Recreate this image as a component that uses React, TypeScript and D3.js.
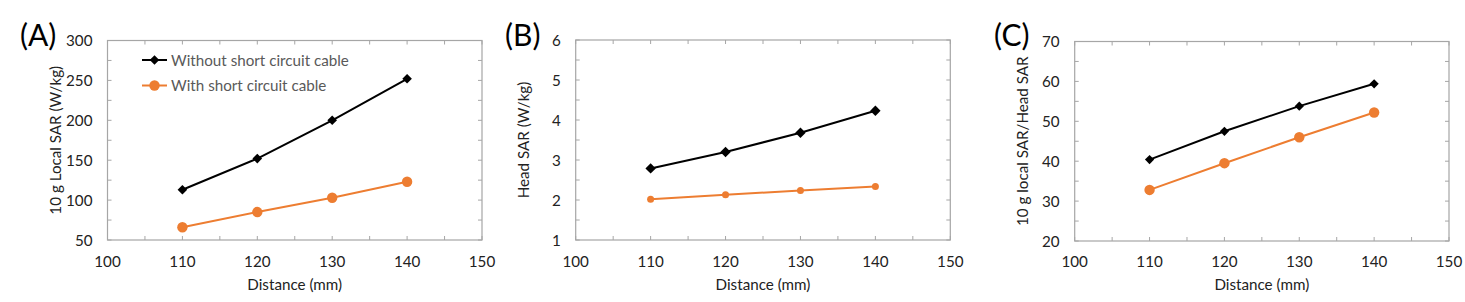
import React from "react";
import * as d3 from "d3";

const distances = [110, 120, 130, 140];
const xTicks = [100, 110, 120, 130, 140, 150];

const localSARWithout = [113, 152, 200, 252];
const localSARWith = [66, 85, 103, 123];
const headSARWithout = [2.79, 3.2, 3.68, 4.23];
const headSARWith = [2.02, 2.13, 2.24, 2.34];
const ratioWithout = [40.4, 47.5, 53.8, 59.4];
const ratioWith = [32.8, 39.5, 46.0, 52.2];

const yTicksA = [50, 100, 150, 200, 250, 300];
const yTicksB = [1, 2, 3, 4, 5, 6];
const yTicksC = [20, 30, 40, 50, 60, 70];

const seriesNames = ["Without short circuit cable", "With short circuit cable"];

const ORANGE = "#ED7D31";
const FONT = "Lato, 'Open Sans', sans-serif";
const FRAME = "#a6a6a6";
const FS = 15.2;

type PanelProps = {
  label: string;
  yLabel: string;
  box: { x0: number; x1: number; y0: number; y1: number };
  yTicks: number[];
  black: number[];
  orange: number[];
  diamond: number;
  circle: number;
  legend?: boolean;
  labelX: number;
};

function Diamond({ cx, cy, r }: { cx: number; cy: number; r: number }) {
  return (
    <path
      d={`M${cx},${cy - r}L${cx + r},${cy}L${cx},${cy + r}L${cx - r},${cy}Z`}
      fill="#000"
    />
  );
}

function Panel(p: PanelProps) {
  const { x0, x1, y0, y1 } = p.box;
  const x = d3.scaleLinear().domain([100, 150]).range([x0, x1]);
  const yd = [p.yTicks[0], p.yTicks[p.yTicks.length - 1]];
  const y = d3.scaleLinear().domain(yd).range([y1, y0]);
  const line = d3
    .line<number>()
    .x((_, i) => x(distances[i]))
    .y((d) => y(d));
  const xMinor = d3.range(100, 150.01, 5);
  const step = (p.yTicks[1] - p.yTicks[0]) / 2;
  const yMinor = d3.range(yd[0], yd[1] + step / 100, step);
  const tl = 4;
  return (
    <g>
      <text x={p.labelX} y={46} fontSize={30} fontFamily={FONT} fill="#000">
        {p.label}
      </text>
      <rect x={x0} y={y0} width={x1 - x0} height={y1 - y0} fill="none" stroke={FRAME} strokeWidth={1.2} />
      {xMinor.map((v) => (
        <g key={"xm" + v}>
          <line x1={x(v)} x2={x(v)} y1={y1} y2={y1 - tl} stroke={FRAME} />
          <line x1={x(v)} x2={x(v)} y1={y0} y2={y0 + tl} stroke={FRAME} />
        </g>
      ))}
      {yMinor.map((v) => (
        <g key={"ym" + v}>
          <line x1={x0} x2={x0 + tl} y1={y(v)} y2={y(v)} stroke={FRAME} />
          <line x1={x1} x2={x1 - tl} y1={y(v)} y2={y(v)} stroke={FRAME} />
        </g>
      ))}
      {xTicks.map((v) => (
        <text key={"xt" + v} x={x(v)} y={267} textAnchor="middle" fontSize={FS} fontFamily={FONT} fill="#222">
          {v}
        </text>
      ))}
      {p.yTicks.map((v) => (
        <text key={"yt" + v} x={x0 - 15} y={y(v) + 5.5} textAnchor="end" fontSize={FS} fontFamily={FONT} fill="#222">
          {v}
        </text>
      ))}
      <text x={(x0 + x1) / 2} y={290} textAnchor="middle" fontSize={FS} fontFamily={FONT} fill="#222">
        Distance (mm)
      </text>
      <text
        transform={`translate(${x0 - 47},${(y0 + y1) / 2}) rotate(-90)`}
        textAnchor="middle"
        fontSize={FS}
        fontFamily={FONT}
        fill="#222"
      >
        {p.yLabel}
      </text>
      <path d={line(p.black) || ""} fill="none" stroke="#000" strokeWidth={2} />
      <path d={line(p.orange) || ""} fill="none" stroke={ORANGE} strokeWidth={2} />
      {p.black.map((v, i) => (
        <Diamond key={"b" + i} cx={x(distances[i])} cy={y(v)} r={p.diamond} />
      ))}
      {p.orange.map((v, i) => (
        <circle key={"o" + i} cx={x(distances[i])} cy={y(v)} r={p.circle} fill={ORANGE} />
      ))}
      {p.legend && (
        <g>
          <line x1={142} x2={167} y1={60} y2={60} stroke="#000" strokeWidth={2} />
          <Diamond cx={154.5} cy={60} r={4.8} />
          <text x={171} y={65.5} fontSize={FS} fontFamily={FONT} fill="#595959">
            {seriesNames[0]}
          </text>
          <line x1={142} x2={167} y1={85.5} y2={85.5} stroke={ORANGE} strokeWidth={2} />
          <circle cx={154.5} cy={85.5} r={5.2} fill={ORANGE} />
          <text x={171} y={91} fontSize={FS} fontFamily={FONT} fill="#595959">
            {seriesNames[1]}
          </text>
        </g>
      )}
    </g>
  );
}

export default function App() {
  return (
    <svg
      width={1465}
      height={302}
      style={{ position: "absolute", left: 0, top: 0, background: "#fff" }}
    >
      <rect width={1465} height={302} fill="#fff" />
      <Panel
        label="(A)"
        labelX={20}
        yLabel="10 g Local SAR (W/kg)"
        box={{ x0: 107.5, x1: 482, y0: 40.5, y1: 240 }}
        yTicks={yTicksA}
        black={localSARWithout}
        orange={localSARWith}
        diamond={4.8}
        circle={5.2}
        legend
      />
      <Panel
        label="(B)"
        labelX={505}
        yLabel="Head SAR (W/kg)"
        box={{ x0: 575.7, x1: 950.3, y0: 40, y1: 240 }}
        yTicks={yTicksB}
        black={headSARWithout}
        orange={headSARWith}
        diamond={5.2}
        circle={3.5}
      />
      <Panel
        label="(C)"
        labelX={994}
        yLabel="10 g local SAR/Head SAR"
        box={{ x0: 1074.7, x1: 1449, y0: 41.5, y1: 241 }}
        yTicks={yTicksC}
        black={ratioWithout}
        orange={ratioWith}
        diamond={4.6}
        circle={5.2}
      />
    </svg>
  );
}
